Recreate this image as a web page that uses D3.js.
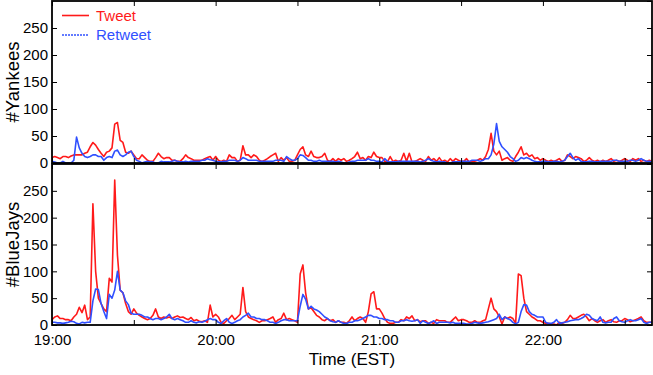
<!DOCTYPE html>
<html><head><meta charset="utf-8">
<script src="https://cdn.jsdelivr.net/npm/d3@7"></script>
<style>body{margin:0;background:#fff}svg{display:block}text{font-family:"Liberation Sans",Arial,Helvetica,sans-serif}</style>
</head><body><svg id="c" width="653" height="375"></svg>
<script>
// minutes after 19:00 (1-minute bins)
const minutes = d3.range(221);
const xTickMinutes = [0,30,60,90,120,150,180,210];
const xTickLabels = {0:"19:00",60:"20:00",120:"21:00",180:"22:00"};
const yTicks = [0,50,100,150,200,250];
const seriesNames = ["Tweet","Retweet"];

const yankeesTweet = [
10,12,10,8,12,12,10,13,15,15,
15,15,18,20,30,38,33,25,18,12,
20,22,28,72,75,42,38,20,18,22,
15,8,8,15,10,5,3,3,10,18,
12,8,10,10,5,5,3,3,8,15,
10,8,5,5,5,5,8,10,12,5,
12,5,3,5,3,15,10,10,3,5,
32,15,15,10,15,12,5,3,5,8,
12,15,18,3,10,5,10,3,3,5,
15,25,30,15,12,22,12,10,10,12,
18,5,3,8,3,8,5,8,3,5,
8,12,20,8,10,5,12,10,20,12,
10,10,3,2,12,3,5,3,5,18,
3,18,2,3,5,8,5,3,12,5,
8,3,10,3,5,2,8,3,8,5,
3,3,8,2,3,3,5,8,5,12,
25,55,22,15,22,5,8,10,5,3,
12,20,30,15,18,12,15,8,10,5,
8,5,3,5,3,5,8,3,5,15,
12,8,12,10,8,3,5,10,5,3,
5,2,5,3,5,8,3,5,3,5,
8,5,3,8,5,8,3,5,3,5,
3];
const yankeesRetweet = [
3,2,0,0,3,0,0,0,5,48,
28,18,12,10,12,15,15,12,12,5,
10,12,10,22,24,15,12,15,20,22,
12,5,3,0,2,3,2,2,0,0,
3,2,2,2,3,5,3,2,2,3,
2,3,3,3,3,5,5,8,6,5,
3,2,2,3,3,5,5,5,3,5,
10,8,5,5,5,5,3,3,3,3,
3,3,5,5,5,3,12,8,5,5,
8,15,14,10,5,5,3,3,5,3,
3,3,3,3,2,3,2,0,0,2,
3,3,5,5,5,5,8,5,5,3,
3,2,8,3,2,2,2,3,3,3,
3,3,3,3,3,2,3,5,8,5,
3,2,3,2,2,0,0,2,2,2,
3,3,3,3,5,5,5,3,5,8,
8,15,35,73,40,30,25,20,12,8,
3,5,10,8,10,8,5,3,2,2,
3,3,2,2,3,3,2,3,5,12,
18,10,5,8,3,2,2,3,3,2,
2,3,3,3,3,3,5,5,3,3,
3,3,5,5,3,5,8,5,3,3,
2];
const blueJaysTweet = [
10,15,17,12,12,10,10,8,15,20,
33,23,37,10,15,226,100,50,40,30,
25,87,80,270,130,65,60,40,25,20,
30,22,18,15,12,10,12,18,30,15,
12,15,13,15,12,15,17,14,15,12,
10,14,8,10,7,6,8,5,37,15,
20,15,5,3,8,12,18,10,15,20,
70,25,15,12,10,8,5,8,8,10,
12,15,5,10,12,22,10,12,10,8,
5,95,112,60,30,32,25,18,15,10,
8,12,8,10,5,8,5,5,3,8,
15,8,12,15,12,5,25,58,62,30,
30,22,12,5,3,3,5,5,10,8,
15,12,17,8,10,6,8,8,3,5,
3,10,8,8,8,5,5,10,15,8,
10,10,8,5,5,8,5,5,8,10,
30,50,30,25,15,2,15,12,15,12,
3,95,92,50,25,20,15,12,8,8,
5,3,3,2,2,0,5,3,5,10,
18,12,12,15,18,20,15,8,12,8,
5,8,10,5,8,10,6,5,8,8,
12,10,6,8,10,12,15,8,5,5,
5];
const blueJaysRetweet = [
5,5,4,4,3,4,5,7,6,3,
2,5,4,5,5,45,67,66,40,25,
12,57,50,65,100,65,60,45,38,22,
20,20,20,18,15,15,12,10,12,12,
10,12,15,20,12,10,12,10,8,5,
5,8,5,4,6,5,7,10,12,10,
10,5,3,8,12,5,3,5,8,10,
15,18,22,15,15,12,12,10,10,8,
5,5,3,5,8,10,10,8,8,8,
8,35,57,48,30,35,30,28,25,20,
15,12,8,6,5,8,5,3,3,5,
5,8,8,10,12,15,18,18,15,15,
12,12,10,10,8,8,5,5,8,8,
10,8,7,8,10,3,8,5,3,5,
8,3,5,5,5,5,4,5,3,3,
3,3,2,2,3,5,4,3,4,5,
6,8,10,12,20,10,15,12,10,5,
2,5,25,38,37,25,20,18,15,15,
15,5,3,3,5,10,3,4,5,6,
8,9,10,10,12,15,20,18,12,10,
8,15,5,4,5,5,12,15,8,6,
5,8,10,8,8,10,12,5,3,5,
5];

const colors = {Tweet:"#ff1a1a", Retweet:"#3050ff"};
const svg = d3.select("#c");
const L = 52, R = 652;
const x = d3.scaleLinear().domain([0,220]).range([L,R]);

const panels = [
  {label:"#Yankees", tweet:yankeesTweet, retweet:yankeesRetweet, top:1, bottom:163, xlabels:false},
  {label:"#BlueJays", tweet:blueJaysTweet, retweet:blueJaysRetweet, top:164, bottom:325, xlabels:true}
];

panels.forEach((p,i) => {
  const y = d3.scaleLinear().domain([0,300]).range([p.bottom,p.top]);
  const g = svg.append("g");
  const clipId = "clip"+i;
  svg.append("clipPath").attr("id",clipId).append("rect")
    .attr("x",L).attr("y",p.top).attr("width",R-L).attr("height",p.bottom-p.top);
  const line = d3.line().x((d,j)=>x(minutes[j])).y(d=>y(d));
  const lg = g.append("g").attr("clip-path",`url(#${clipId})`);
  lg.append("path").datum(p.tweet).attr("d",line).attr("fill","none")
    .attr("stroke",colors.Tweet).attr("stroke-width",1.6).attr("stroke-linejoin","round");
  lg.append("path").datum(p.retweet).attr("d",line).attr("fill","none")
    .attr("stroke",colors.Retweet).attr("stroke-width",1.6).attr("stroke-linejoin","round");

  // axes with inward ticks
  const ax = g.append("g").attr("transform",`translate(${L},0)`)
    .call(d3.axisLeft(y).tickValues(yTicks).tickSize(-5).tickPadding(4));
  ax.select(".domain").remove();
  ax.selectAll("text").attr("font-size",15).attr("fill","#000").attr("font-family","'Liberation Sans',Arial,sans-serif");
  const axR = g.append("g").attr("transform",`translate(${R},0)`)
    .call(d3.axisRight(y).tickValues(yTicks.concat([300])).tickSize(-5).tickFormat(""));
  axR.select(".domain").remove();
  const axT = g.append("g").attr("transform",`translate(0,${p.top})`)
    .call(d3.axisTop(x).tickValues(xTickMinutes).tickSize(-5).tickFormat(""));
  axT.select(".domain").remove();
  const axB = g.append("g").attr("transform",`translate(0,${p.bottom})`)
    .call(d3.axisBottom(x).tickValues(xTickMinutes).tickSize(-5).tickPadding(9)
      .tickFormat(d => p.xlabels ? (xTickLabels[d]||"") : ""));
  axB.select(".domain").remove();
  axB.selectAll("text").attr("font-size",15).attr("fill","#000").attr("font-family","'Liberation Sans',Arial,sans-serif");
  g.selectAll(".tick line").attr("stroke","#000").attr("stroke-width",1);

  g.append("rect").attr("x",L).attr("y",p.top).attr("width",R-L).attr("height",p.bottom-p.top)
    .attr("fill","none").attr("stroke","#000").attr("stroke-width",1.8);

  svg.append("text").attr("transform",`translate(19,${(p.top+p.bottom)/2}) rotate(-90)`)
    .attr("text-anchor","middle").attr("font-size",18.5).text(p.label);
});

svg.append("text").attr("x",(L+R)/2).attr("y",365).attr("text-anchor","middle")
  .attr("font-size",17).text("Time (EST)");

// legend
const leg = svg.append("g");
seriesNames.forEach((s,i) => {
  const yy = 15.5 + i*19.5;
  leg.append("line").attr("x1",62).attr("x2",89).attr("y1",yy).attr("y2",yy)
    .attr("stroke",colors[s]).attr("stroke-width",1.6)
    .attr("stroke-dasharray", s==="Retweet" ? "2,1" : null);
  leg.append("text").attr("x",96).attr("y",yy+5).attr("font-size",15)
    .attr("fill",colors[s]).text(s);
});
</script></body></html>
